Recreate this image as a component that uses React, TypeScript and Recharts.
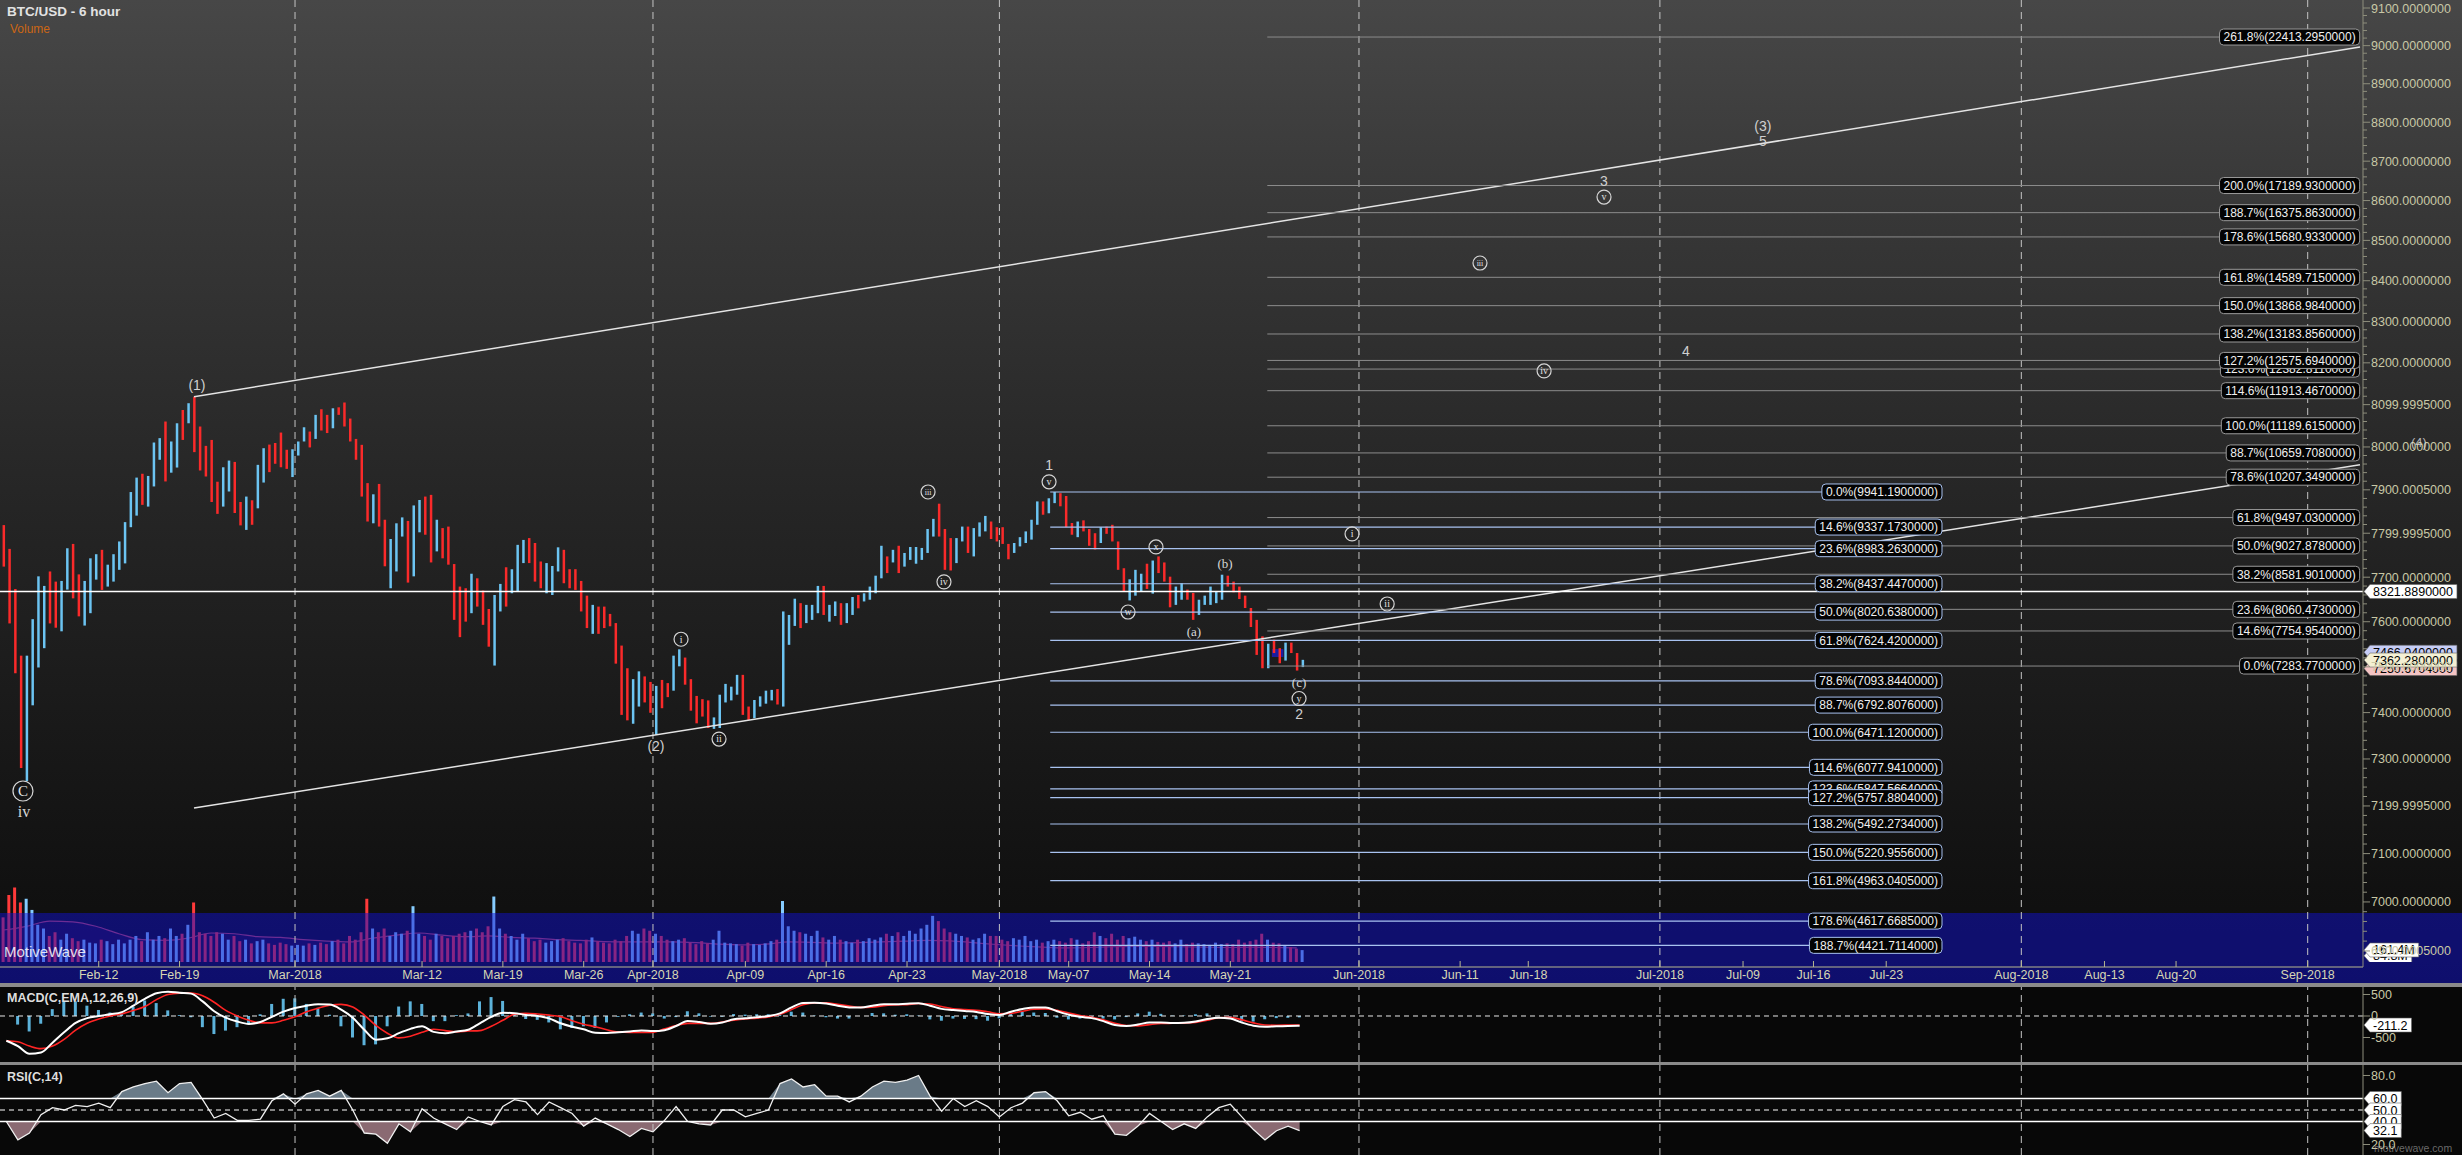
import React from "react";
import {
  ComposedChart,
  Bar,
  Line,
  Area,
  Scatter,
  XAxis,
  YAxis,
  ReferenceLine,
  ReferenceArea,
  Cell,
} from "recharts";

const W = 2462;
const H = 1155;
const AXIS_W = 99;
const FONT = "'Liberation Sans', Arial, sans-serif";
const SERIF = "'Liberation Serif', 'DejaVu Serif', serif";
const X_DOMAIN: [number, number] = [2.4508, 207.09];
const PRICE_DOMAIN: [number, number] = [4253.9, 23947];

// 12h bars: [low, high, up]
const BARS: number[][] = [
  [8700,9370,0],[7860,8980,0],[7190,8360,0],[6070,7420,0],[5930,7420,1],[6790,7920,1],[7265,8550,1],[7520,8405,1],[7860,8625,0],[7800,8470,0],
  [7750,8480,1],[8350,8990,1],[8220,9060,0],[7960,8580,0],[7830,8480,1],[8005,8830,1],[8500,8895,1],[8345,8965,0],[8395,8730,1],[8470,8895,1],
  [8650,9100,1],[8750,9420,1],[9335,9940,1],[9530,10200,1],[9715,10270,0],[9685,10230,1],[10040,10860,1],[10530,10945,1],[10130,11275,0],[10290,10880,1],
  [10385,11240,1],[10910,11510,0],[11240,11650,1],[10675,11785,0],[10330,11175,0],[10220,10795,0],[9765,10910,0],[9560,10125,0],[9685,10390,1],[9950,10515,1],
  [9575,10490,0],[9365,9765,0],[9290,9860,1],[9375,9795,0],[9655,10435,1],[10110,10750,1],[10300,10820,0],[10455,10850,0],[10390,11055,0],[10360,10720,0],
  [10210,10730,1],[10610,10880,1],[10880,11160,1],[10765,11075,0],[10930,11410,1],[11095,11525,0],[11045,11410,0],[11140,11545,1],[11410,11565,0],[11175,11665,0],
  [10880,11335,0],[10530,10930,0],[9860,10815,0],[9430,10100,0],[9400,9900,1],[9345,10085,0],[8705,9460,0],[8370,9140,1],[8625,9400,1],[9180,9500,1],
  [8455,9440,0],[8550,9705,1],[9250,9800,1],[9210,9860,0],[8765,9890,0],[8940,9460,1],[8830,9320,0],[8730,9345,0],[7910,8740,0],[7670,8395,0],
  [7885,8370,0],[8005,8590,1],[8100,8520,0],[7840,8335,0],[7540,8065,0],[7290,8270,1],[8030,8435,1],[8100,8690,0],[8295,8660,1],[8320,9045,1],
  [8755,9125,1],[8755,9155,0],[8470,9075,0],[8370,8780,0],[8295,8755,1],[8270,8710,1],[8625,9005,1],[8445,8965,0],[8370,8660,0],[8345,8660,0],
  [8030,8480,0],[7795,8260,0],[7715,8125,1],[7715,8100,0],[7795,8100,0],[7820,7995,0],[7315,7865,0],[6675,7555,0],[6610,7255,0],[6570,7115,1],
  [6775,7215,1],[6825,7150,0],[6700,7080,0],[6440,7030,1],[6755,7105,0],[6890,7065,0],[6970,7420,1],[7280,7505,1],[7045,7395,0],[6725,7115,0],
  [6575,6905,0],[6655,6865,0],[6520,6850,0],[6510,6645,1],[6520,6920,1],[6825,7055,1],[6850,7020,1],[6920,7170,1],[6675,7170,0],[6615,6775,0],
  [6635,6855,1],[6775,6900,1],[6810,6970,1],[6850,6980,1],[6800,6990,0],[6775,8030,1],[7565,7980,1],[7825,8215,1],[7795,8150,0],[7865,8125,1],
  [7910,8125,1],[8005,8405,1],[7980,8405,0],[7885,8125,1],[7965,8175,1],[7840,8150,0],[7865,8150,1],[7980,8240,1],[8075,8270,0],[8175,8295,1],
  [8200,8395,1],[8295,8560,1],[8520,9030,1],[8600,8860,0],[8765,8965,1],
  [8600,9030,0],[8700,8915,1],[8805,9010,1],[8745,9010,1],[8805,8995,1],[8915,9305,1],[9180,9475,1],[9180,9735,0],[8650,9305,0],[8640,9155,0],
  [8755,9155,1],[9100,9345,1],[8915,9345,0],[8860,9320,1],[9180,9415,1],[9265,9525,1],[9140,9430,0],[9100,9335,0],[9060,9335,0],[8815,9060,0],
  [8915,9075,1],[9020,9170,1],[9075,9265,1],[9130,9460,1],[9375,9775,1],[9545,9775,0],[9570,9830,1],[9745,9941,1],[9690,9920,0],[9335,9870,0],
  [9210,9405,0],[9170,9430,1],[9265,9450,0],[9030,9305,0],[8970,9235,0],[9075,9335,1],[9225,9345,0],[9100,9375,0],[8650,9100,0],[8325,8675,0],
  [8190,8505,1],[8260,8650,1],[8325,8590,1],[8360,8745,0],[8290,8795,1],[8600,8860,0],[8470,8765,0],[8090,8545,0],[8125,8395,1],[8200,8445,1],
  [8200,8350,0],[7910,8300,0],[7980,8200,1],[8125,8260,1],[8125,8395,1],[8150,8325,1],[8200,8575,1],[8395,8560,0],[8310,8470,0],[8210,8395,0],
  [8080,8260,0],[7810,8080,0],[7430,7910,0],[7255,7680,0],[7255,7580,1],[7455,7635,0],[7320,7520,0],[7355,7595,1],[7455,7595,0],[7225,7455,0],
  [7270,7365,1],
];

// volume per 12h bar, millions
const VOLUME = [
  600,900,1000,800,850,700,500,450,
  350,400,300,380,320,280,300,260,250,300,280,240,300,
  250,300,350,280,400,300,350,320,450,350,380,500,800,400,380,
  350,400,380,300,350,280,300,250,280,300,250,230,260,240,220,230,
  220,250,230,260,240,280,300,250,350,300,400,850,450,400,
  450,350,400,380,420,750,380,350,300,380,350,320,350,380,
  400,420,450,400,480,880,450,380,350,300,380,320,280,300,
  260,280,300,320,280,260,250,300,330,280,260,250,300,280,350,420,380,450,420,380,
  350,300,280,300,320,260,240,280,250,300,420,260,250,240,220,260,240,230,250,280,300,820,
  480,420,400,380,350,420,330,300,350,300,280,260,300,280,320,300,
  330,380,350,400,350,420,380,450,500,620,550,450,400,380,350,330,300,320,380,350,
  350,300,280,320,300,350,280,300,260,280,300,280,260,320,300,250,280,400,350,320,
  380,300,350,320,340,300,280,300,270,260,280,250,300,240,260,250,240,230,260,240,
  250,240,300,260,280,300,380,300,260,250,220,200,180,160,
];

// volume moving average, one value every 2 days
const VOL_MA = [
  430,480,550,540,480,380,300,290,320,390,380,340,330,300,280,270,320,360,390,360,
  340,350,330,320,300,290,275,270,270,270,260,240,230,240,270,265,255,260,270,280,
  290,285,260,235,215,200,190,195,205,210,210,205,200,195,200,195,190,
];

// daily indicator values, day 3 .. day 115
const MACD = [
  -575,-700,-880,-850,-620,-380,-160,-50,0,40,90,240,400,530,565,540,520,340,110,-40,
  -130,-185,-140,-20,100,185,240,275,265,150,-40,-320,-550,-520,-400,-300,-240,-370,-400,-360,
  -320,-170,-20,75,65,25,0,-55,-170,-250,-310,-390,-395,-380,-360,-340,-350,
  -330,-233,-116,-140,-178,-150,-78,-54,-30,0,60,200,300,310,290,240,200,200,240,271,
  271,285,295,240,165,140,116,93,45,23,100,160,200,200,110,30,-20,-50,-120,-210,
  -233,-200,-150,-150,-165,-160,-130,-70,-39,-60,-155,-225,-248,-240,-233,-225,
];
const SIGNAL = [
  -575,-600,-700,-760,-700,-545,-330,-170,-70,0,50,130,220,380,500,530,535,470,320,130,
  0,-100,-160,-160,-100,-20,100,180,250,270,210,20,-220,-400,-510,-470,-380,-310,-340,-370,
  -350,-340,-240,-100,40,60,45,20,-15,-110,-190,-250,-320,-370,-380,-380,-380,
  -300,-220,-171,-171,-171,-140,-100,-70,-50,-20,40,150,260,305,305,270,230,200,205,240,
  256,265,290,280,220,170,150,130,100,50,60,110,160,165,130,70,10,-30,-90,-170,
  -220,-230,-200,-175,-170,-165,-150,-100,-40,-30,-90,-160,-210,-215,-212,-209,
];
const RSI = [
  40,24,30,46,52,50,54,53,56,52,66,70,73,75,65,73,74,59,43,47,
  41,41,42,58,64,55,64,67,62,67,50,30,29,21,38,31,51,43,38,33,
  44,40,37,53,59,57,46,57,52,47,36,43,38,33,27,34,31,
  41,53,40,38,37,50,50,44,47,50,73,77,70,72,62,62,57,62,70,75,
  74,76,80,62,49,60,53,58,53,44,52,56,65,66,58,45,48,42,45,29,
  28,36,47,40,33,38,34,44,52,55,44,33,24,32,36,32,
];

const DATE_TICKS = [11, 18, 28, 39, 46, 53, 59, 67, 74, 81, 89, 95, 102, 109, 120.14, 128.9, 134.8, 146.2, 153.4, 159.5, 165.8, 177.5, 184.7, 190.9, 202.3];
const DATE_LABELS = ["Feb-12", "Feb-19", "Mar-2018", "Mar-12", "Mar-19", "Mar-26", "Apr-2018", "Apr-09", "Apr-16", "Apr-23", "May-2018", "May-07", "May-14", "May-21", "Jun-2018", "Jun-11", "Jun-18", "Jul-2018", "Jul-09", "Jul-16", "Jul-23", "Aug-2018", "Aug-13", "Aug-20", "Sep-2018"];
const MONTH_LINES = [28, 59, 89, 120.14, 146.2, 177.5, 202.3];

// right axis: the platform prints its own scale next to the log price pane
const AXIS_TICKS = [9100, 9000, 8900, 8800, 8700, 8600, 8500, 8400, 8300, 8200, 8100, 8000, 7900, 7800, 7700, 7600, 7500, 7400, 7300, 7200, 7100, 7000, 6900];
const AXIS_LABELS = ["9100.0000000", "9000.0000000", "8900.0000000", "8800.0000000", "8700.0000000", "8600.0000000", "8500.0000000", "8400.0000000", "8300.0000000", "8200.0000000", "8099.9995000", "8000.0000000", "7900.0005000", "7799.9995000", "7700.0000000", "7600.0000000", "7500.0000000", "7400.0000000", "7300.0000000", "7199.9995000", "7100.0000000", "7000.0000000", "6900.0005000"];
const AXIS_MINOR: number[] = [];
for (let i = 0; i < AXIS_TICKS.length - 1; i++) for (let k = 1; k < 5; k++) AXIS_MINOR.push(AXIS_TICKS[i] - k * 20);

// fib retracement from the May high (blue) and extension from the May low (grey)
const FIB_A: [string, string][] = [
  ["0.0%", "9941.1900000"], ["14.6%", "9337.1730000"], ["23.6%", "8983.2630000"], ["38.2%", "8437.4470000"],
  ["50.0%", "8020.6380000"], ["61.8%", "7624.4200000"], ["78.6%", "7093.8440000"], ["88.7%", "6792.8076000"],
  ["100.0%", "6471.1200000"], ["114.6%", "6077.9410000"], ["123.6%", "5847.5664000"], ["127.2%", "5757.8804000"],
  ["138.2%", "5492.2734000"], ["150.0%", "5220.9556000"], ["161.8%", "4963.0405000"], ["178.6%", "4617.6685000"],
  ["188.7%", "4421.7114000"],
];
const FIB_B: [string, string][] = [
  ["261.8%", "22413.2950000"], ["200.0%", "17189.9300000"], ["188.7%", "16375.8630000"], ["178.6%", "15680.9330000"],
  ["161.8%", "14589.7150000"], ["150.0%", "13868.9840000"], ["138.2%", "13183.8560000"], ["123.6%", "12382.8110000"],
  ["127.2%", "12575.6940000"], ["114.6%", "11913.4670000"], ["100.0%", "11189.6150000"], ["88.7%", "10659.7080000"],
  ["78.6%", "10207.3490000"], ["61.8%", "9497.0300000"], ["50.0%", "9027.8780000"], ["38.2%", "8581.9010000"],
  ["23.6%", "8060.4730000"], ["14.6%", "7754.9540000"], ["0.0%", "7283.7700000"],
];
const FIB_A_SPAN = [93.4, 170.63];
const FIB_B_SPAN = [112.2, 206.8];

// elliott wave labels
const WAVES = [
  { t: 19.51, p: 12035, s: "(1)", k: "p" },
  { t: 4.44, p: 5826, s: "C", k: "c" },
  { t: 4.53, p: 5612, s: "iv", k: "s" },
  { t: 59.26, p: 6314, s: "(2)", k: "p" },
  { t: 61.43, p: 7641, s: "i", k: "c" },
  { t: 64.72, p: 6393, s: "ii", k: "c" },
  { t: 82.82, p: 9941, s: "iii", k: "c" },
  { t: 84.2, p: 8466, s: "iv", k: "c" },
  { t: 93.3, p: 10437, s: "1", k: "p" },
  { t: 93.3, p: 10124, s: "v", k: "c" },
  { t: 100.14, p: 8022, s: "w", k: "c" },
  { t: 102.56, p: 9011, s: "x", k: "c" },
  { t: 105.85, p: 7751, s: "(a)", k: "s" },
  { t: 108.54, p: 8757, s: "(b)", k: "s" },
  { t: 114.95, p: 7085, s: "(c)", k: "s" },
  { t: 114.95, p: 6873, s: "y", k: "c" },
  { t: 114.95, p: 6691, s: "2", k: "p" },
  { t: 119.54, p: 9223, s: "i", k: "c" },
  { t: 122.58, p: 8138, s: "ii", k: "c" },
  { t: 130.62, p: 14967, s: "iii", k: "c" },
  { t: 136.17, p: 12341, s: "iv", k: "c" },
  { t: 141.36, p: 17328, s: "3", k: "p" },
  { t: 141.36, p: 16840, s: "v", k: "c" },
  { t: 148.46, p: 12790, s: "4", k: "p" },
  { t: 155.12, p: 19119, s: "(3)", k: "p" },
  { t: 155.12, p: 18613, s: "5", k: "p" },
];

const UP = "#6cc4f2";
const DOWN = "#fa2a2a";
const FIB_A_COLOR = "#a8c2f0";
const FIB_B_COLOR = "#8c8c8c";

let measureCtx: CanvasRenderingContext2D | null = null;
const textW = (s: string, size: number) => {
  if (!measureCtx) measureCtx = document.createElement("canvas").getContext("2d");
  if (!measureCtx) return s.length * size * 0.55;
  measureCtx.font = `${size}px ${FONT}`;
  return measureCtx.measureText(s).width;
};

const FibTag = (props: any) => {
  const { viewBox, text, edge } = props;
  if (!viewBox) return null;
  const right = viewBox.x + viewBox.width;
  const y = viewBox.y;
  const w = textW(text, 12) + 8;
  return (
    <g>
      <rect x={right - w} y={y - 8} width={w} height={16} rx={4} fill="#030303" stroke={edge} strokeWidth={1} />
      <text x={right - 4} y={y} dy={4.3} textAnchor="end" fontSize={12} fill="#f0f0f0" fontFamily={FONT}>
        {text}
      </text>
    </g>
  );
};

const AxisTag = (props: any) => {
  const { viewBox, text, fill = "#ffffff" } = props;
  if (!viewBox) return null;
  const x = viewBox.x + viewBox.width + 1;
  const y = viewBox.y;
  const w = textW(text, 12.5) + 7;
  const d = `M${x},${y} L${x + 6},${y - 7} L${x + 6 + w},${y - 7} L${x + 6 + w},${y + 7} L${x + 6},${y + 7} Z`;
  return (
    <g>
      <path d={d} fill={fill} stroke="#666" strokeWidth={0.6} />
      <text x={x + 9} y={y} dy={4.5} fontSize={12.5} fill="#000" fontFamily={FONT}>
        {text}
      </text>
    </g>
  );
};

const PriceTick = (props: any) => {
  const { x, y, payload } = props;
  const i = AXIS_TICKS.indexOf(payload.value);
  if (i < 0) return <line x1={x} x2={x + 4} y1={y} y2={y} stroke="#8e8e7c" />;
  return (
    <g>
      <line x1={x} x2={x + 7} y1={y} y2={y} stroke="#8e8e7c" />
      <text x={x + 8} y={y} dy={4.5} fontSize={12.5} fill="#c8c8a6" fontFamily={FONT}>
        {AXIS_LABELS[i]}
      </text>
    </g>
  );
};

const makeTick = (labels: Record<string, string>) => (props: any) => {
  const { x, y, payload } = props;
  const lbl = labels[String(payload.value)];
  return (
    <g>
      <line x1={x} x2={x + 7} y1={y} y2={y} stroke="#8e8e7c" />
      {lbl ? (
        <text x={x + 8} y={y} dy={4.5} fontSize={12.5} fill="#c8c8a6" fontFamily={FONT}>
          {lbl}
        </text>
      ) : null}
    </g>
  );
};
const MacdTick = makeTick({ "500": "500", "0": "0", "-500": "-500" });
const RsiTick = makeTick({ "80": "80.0", "20": "20.0" });

const DateTick = (props: any) => {
  const { x, y, payload } = props;
  const i = DATE_TICKS.indexOf(payload.value);
  return (
    <g>
      <line x1={x} x2={x} y1={y - 6} y2={y} stroke="#b8b890" />
      <text x={x} y={y + 9} textAnchor="middle" dominantBaseline="middle" fontSize={12.5} fill="#d6d6b4" fontFamily={FONT}>
        {DATE_LABELS[i]}
      </text>
    </g>
  );
};

const WaveMark = (props: any) => {
  const { cx, cy, payload } = props;
  if (cx == null || cy == null) return null;
  const s: string = payload.s;
  if (payload.k === "c") {
    const big = s === "C";
    return (
      <g>
        <circle cx={cx} cy={cy} r={big ? 10 : 7} fill="none" stroke="#d6d6d6" strokeWidth={1.2} />
        <text x={cx} y={cy} dy={big ? 5 : 3.3} textAnchor="middle" fontSize={big ? 15 : s.length > 2 ? 8 : 10} fill="#e2e2e2" fontFamily={SERIF}>
          {s}
        </text>
      </g>
    );
  }
  if (payload.k === "s") {
    return (
      <text x={cx} y={cy} dy={5} textAnchor="middle" fontSize={s === "iv" ? 16 : 13} fill="#d8d8d8" fontFamily={SERIF}>
        {s}
      </text>
    );
  }
  return (
    <text x={cx} y={cy} dy={5} textAnchor="middle" fontSize={14} fill="#d0d0d0" fontFamily={FONT}>
      {s}
    </text>
  );
};

const monthLines = (yAxisId: string) =>
  MONTH_LINES.map((m) => (
    <ReferenceLine key={`m${m}`} x={m} yAxisId={yAxisId} stroke="#c4c4c4" strokeDasharray="7 5" strokeWidth={1} />
  ));

export default function App() {
  const priceData = BARS.map((b, i) => ({ t: 2.75 + i * 0.5, range: [b[0], b[1]], up: b[2] }));
  const volData = VOLUME.map((v, i) => ({
    t: 2.75 + i * 0.5,
    v,
    up: BARS[i][2],
    ma: i % 4 === 0 ? VOL_MA[i / 4] : undefined,
  }));
  const indData = MACD.map((m, i) => ({ t: 3 + i, macd: m, signal: SIGNAL[i], hist: m - SIGNAL[i], rsi: RSI[i] }));
  // charts with a visible right axis get their width from the axis; hidden-axis overlays use a margin
  const axisMargin = { top: 0, right: 0, bottom: 0, left: 0 };
  const bareMargin = { top: 0, right: AXIS_W, bottom: 0, left: 0 };

  return (
    <div style={{ position: "fixed", left: 0, top: 0, width: W, height: H, overflow: "hidden", background: "#080808", fontFamily: FONT }}>
      <div
        style={{
          position: "absolute", left: 0, top: 0, width: W, height: 983,
          background: "linear-gradient(#474747 0%, #373737 22%, #272727 48%, #1a1a1a 72%, #111111 90%, #0d0d0d 100%)",
        }}
      />

      {/* volume (under the navy band) */}
      <div style={{ position: "absolute", left: 0, top: 862 }}>
        <ComposedChart width={W} height={100} data={volData} margin={bareMargin}>
          <XAxis dataKey="t" type="number" domain={X_DOMAIN} allowDataOverflow hide />
          <YAxis yAxisId="v" domain={[0, 1344]} allowDataOverflow hide />
          <Bar dataKey="v" yAxisId="v" barSize={3} isAnimationActive={false}>
            {volData.map((d, i) => (
              <Cell key={i} fill={d.up ? "#86ccff" : "#ff3a3a"} />
            ))}
          </Bar>
          <Area
            dataKey="ma" yAxisId="v" type="monotone" connectNulls stroke="#c8485a" strokeWidth={1.2}
            fill="#3a1050" fillOpacity={0.35} isAnimationActive={false}
          />
        </ComposedChart>
      </div>

      <div style={{ position: "absolute", left: 0, top: 913, width: W, height: 70, background: "rgba(16,16,205,0.5)" }} />

      {/* volume axis tags */}
      <div style={{ position: "absolute", left: 0, top: 862 }}>
        <ComposedChart width={W} height={100} data={volData} margin={bareMargin}>
          <XAxis dataKey="t" type="number" domain={X_DOMAIN} allowDataOverflow hide />
          <YAxis yAxisId="v" domain={[0, 1344]} allowDataOverflow hide />
          <ReferenceLine y={84.8} yAxisId="v" stroke="none" label={<AxisTag text="84.8M" />} />
          <ReferenceLine y={161.4} yAxisId="v" stroke="none" label={<AxisTag text="161.4M" />} />
        </ComposedChart>
      </div>

      {/* price pane */}
      <div style={{ position: "absolute", left: 0, top: 0 }}>
        <ComposedChart width={W} height={983} data={priceData} margin={axisMargin}>
          <XAxis
            dataKey="t" type="number" domain={X_DOMAIN} allowDataOverflow ticks={DATE_TICKS} interval={0}
            height={16} tickSize={0} tickMargin={0} tick={<DateTick />} axisLine={{ stroke: "#b8b890" }} tickLine={false}
          />
          <YAxis yAxisId="price" scale="log" domain={PRICE_DOMAIN} allowDataOverflow hide />
          <YAxis
            yAxisId="lbl" orientation="right" scale="log" domain={[6867.6, 9121.4]} allowDataOverflow
            ticks={[...AXIS_TICKS, ...AXIS_MINOR]} interval={0} width={AXIS_W} tickSize={0} tickMargin={0}
            tick={<PriceTick />} tickLine={false} axisLine={{ stroke: "#8e8e7c" }}
          />
          {monthLines("price")}
          <ReferenceLine
            yAxisId="price" stroke="#e4e4e4" strokeWidth={1.5}
            segment={[{ x: 19.25, y: 11786 }, { x: 206.83, y: 22019 }]}
          />
          <ReferenceLine
            yAxisId="price" stroke="#e4e4e4" strokeWidth={1.5}
            segment={[{ x: 19.25, y: 5651 }, { x: 206.83, y: 10436 }]}
          />
          <ReferenceArea yAxisId="price" x1={112.6} x2={113.6} y1={7402} y2={7508} fill="#1c1ca0" fillOpacity={1} stroke="none" />
          <Bar dataKey="range" yAxisId="price" barSize={2.5} isAnimationActive={false}>
            {priceData.map((d, i) => (
              <Cell key={i} fill={d.up ? UP : DOWN} />
            ))}
          </Bar>
          {FIB_B.map(([pct, val]) => (
            <ReferenceLine
              key={`b${pct}`} yAxisId="price" stroke={FIB_B_COLOR} strokeWidth={1}
              segment={[{ x: FIB_B_SPAN[0], y: parseFloat(val) }, { x: FIB_B_SPAN[1], y: parseFloat(val) }]}
              label={<FibTag text={`${pct}(${val})`} edge="#9a9a9a" />}
            />
          ))}
          <ReferenceLine y={8321.889} yAxisId="price" stroke="#ffffff" strokeWidth={1.5} label={<AxisTag text="8321.8890000" />} />
          {FIB_A.map(([pct, val]) => (
            <ReferenceLine
              key={`a${pct}`} yAxisId="price" stroke={FIB_A_COLOR} strokeWidth={1.2}
              segment={[{ x: FIB_A_SPAN[0], y: parseFloat(val) }, { x: FIB_A_SPAN[1], y: parseFloat(val) }]}
              label={<FibTag text={`${pct}(${val})`} edge={FIB_A_COLOR} />}
            />
          ))}
          <ReferenceLine y={7466.04} yAxisId="price" stroke="none" label={<AxisTag text="7466.0400000" fill="#c6cdf6" />} />
          <ReferenceLine y={7250.6704} yAxisId="price" stroke="none" label={<AxisTag text="7250.6704000" fill="#f4c4c4" />} />
          <ReferenceLine y={7362.28} yAxisId="price" stroke="none" label={<AxisTag text="7362.2800000" fill="#f4f0d4" />} />
        </ComposedChart>
      </div>

      {/* wave labels, on their own layer so they do not squeeze the price bars */}
      <div style={{ position: "absolute", left: 0, top: 0 }}>
        <ComposedChart width={W} height={983} data={WAVES} margin={{ top: 0, right: AXIS_W, bottom: 16, left: 0 }}>
          <XAxis dataKey="t" type="number" domain={X_DOMAIN} allowDataOverflow hide />
          <YAxis yAxisId="price" scale="log" domain={PRICE_DOMAIN} allowDataOverflow hide />
          <Scatter data={WAVES} dataKey="p" yAxisId="price" shape={<WaveMark />} isAnimationActive={false} />
        </ComposedChart>
      </div>

      <div style={{ position: "absolute", left: 0, top: 983, width: W, height: 4, background: "#8a8a8a" }} />

      {/* MACD */}
      <div style={{ position: "absolute", left: 0, top: 987 }}>
        <ComposedChart width={W} height={75} data={indData} margin={axisMargin}>
          <XAxis dataKey="t" type="number" domain={X_DOMAIN} allowDataOverflow hide />
          <YAxis
            yAxisId="m" orientation="right" domain={[-1070, 674]} allowDataOverflow ticks={[500, 0, -500]} interval={0}
            width={AXIS_W} tickSize={0} tickMargin={0} tick={<MacdTick />} tickLine={false} axisLine={{ stroke: "#8e8e7c" }}
          />
          <YAxis yAxisId="h" domain={[-535, 337]} allowDataOverflow hide />
          {monthLines("m")}
          <ReferenceLine y={0} yAxisId="m" stroke="#e8e8e8" strokeDasharray="5 4" />
          <Bar dataKey="hist" yAxisId="h" barSize={3} fill="#5cb2da" isAnimationActive={false} />
          <Line dataKey="signal" yAxisId="m" type="monotone" stroke="#ff2424" strokeWidth={1.6} dot={false} isAnimationActive={false} />
          <Line dataKey="macd" yAxisId="m" type="monotone" stroke="#ffffff" strokeWidth={2} dot={false} isAnimationActive={false} />
          <ReferenceLine y={-211.2} yAxisId="m" stroke="none" label={<AxisTag text="-211.2" />} />
        </ComposedChart>
      </div>

      <div style={{ position: "absolute", left: 0, top: 1062, width: W, height: 3, background: "#8a8a8a" }} />

      {/* RSI */}
      <div style={{ position: "absolute", left: 0, top: 1065 }}>
        <ComposedChart width={W} height={90} data={indData} margin={axisMargin}>
          <XAxis dataKey="t" type="number" domain={X_DOMAIN} allowDataOverflow hide />
          <YAxis
            yAxisId="r" orientation="right" domain={[10.9, 89.1]} allowDataOverflow ticks={[80, 20]} interval={0}
            width={AXIS_W} tickSize={0} tickMargin={0} tick={<RsiTick />} tickLine={false} axisLine={{ stroke: "#8e8e7c" }}
          />
          {monthLines("r")}
          <Area
            yAxisId="r" type="linear" dataKey={(d: any) => [60, Math.max(60, d.rsi)]} stroke="none"
            fill="#6a7b88" fillOpacity={1} isAnimationActive={false}
          />
          <Area
            yAxisId="r" type="linear" dataKey={(d: any) => [Math.min(40, d.rsi), 40]} stroke="none"
            fill="#8a6a72" fillOpacity={1} isAnimationActive={false}
          />
          <Line dataKey="rsi" yAxisId="r" type="linear" stroke="#f0f0f0" strokeWidth={1.3} dot={false} isAnimationActive={false} />
          <ReferenceLine y={60} yAxisId="r" stroke="#ffffff" strokeWidth={1.5} label={<AxisTag text="60.0" />} />
          <ReferenceLine y={50} yAxisId="r" stroke="#ffffff" strokeDasharray="5 4" label={<AxisTag text="50.0" />} />
          <ReferenceLine y={40} yAxisId="r" stroke="#ffffff" strokeWidth={1.5} label={<AxisTag text="40.0" />} />
          <ReferenceLine y={32.1} yAxisId="r" stroke="none" label={<AxisTag text="32.1" />} />
        </ComposedChart>
      </div>

      <div style={{ position: "absolute", left: 7, top: 4, fontSize: 13.5, fontWeight: "bold", color: "#e2e2e2" }}>BTC/USD - 6 hour</div>
      <div style={{ position: "absolute", left: 10, top: 22, fontSize: 12, color: "#cc6614" }}>Volume</div>
      <div style={{ position: "absolute", left: 4, top: 943, fontSize: 15, color: "rgba(255,255,255,0.85)" }}>MotiveWave</div>
      <div style={{ position: "absolute", left: 7, top: 991, fontSize: 12.5, fontWeight: "bold", color: "#dedede" }}>MACD(C,EMA,12,26,9)</div>
      <div style={{ position: "absolute", left: 7, top: 1070, fontSize: 12.5, fontWeight: "bold", color: "#dedede" }}>RSI(C,14)</div>
      <div style={{ position: "absolute", left: 2411, top: 435, fontSize: 13, color: "rgba(220,220,220,0.8)" }}>(4)</div>
      <div style={{ position: "absolute", left: 2374, top: 1142, fontSize: 10.5, color: "rgba(190,190,190,0.55)" }}>motivewave.com</div>
    </div>
  );
}
